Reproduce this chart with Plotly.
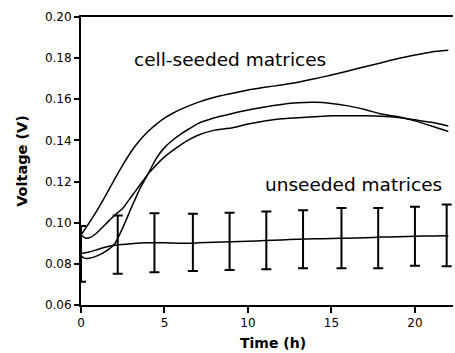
import plotly.graph_objects as go

# Cell-seeded matrix 1 (top curve)
t_a = [0, 0.5, 1, 1.5, 2, 2.5, 3, 3.5, 4, 4.5, 5, 5.5, 6, 7, 8, 9, 10, 11, 12, 13, 14, 15, 16, 17, 18, 19, 20, 21, 22]
v_a = [0.094, 0.1, 0.1065, 0.1135, 0.121, 0.128, 0.1345, 0.1398, 0.1442, 0.1478, 0.1508, 0.1532, 0.1552, 0.1585, 0.161, 0.1628, 0.1645, 0.1658, 0.167, 0.1683, 0.170, 0.1718, 0.1738, 0.1758, 0.1778, 0.1798, 0.1815, 0.183, 0.1838]

# Cell-seeded matrix 2 (starts lowest, peaks mid-way)
t_b = [0, 0.2, 0.5, 1, 1.5, 2, 2.5, 3, 3.5, 4, 4.5, 5, 5.5, 6, 6.5, 7, 8, 9, 10, 11, 12, 13, 14, 15, 16, 17, 18, 19, 20, 21, 22]
v_b = [0.0838, 0.0828, 0.0827, 0.084, 0.0862, 0.0895, 0.0975, 0.107, 0.116, 0.1235, 0.1312, 0.1365, 0.1402, 0.1432, 0.1458, 0.1482, 0.151, 0.153, 0.1548, 0.1563, 0.1575, 0.1583, 0.1585, 0.158, 0.1568, 0.155, 0.1528, 0.1515, 0.1495, 0.147, 0.1443]

# Cell-seeded matrix 3 (starts with a dip, flattest plateau)
t_c = [0, 0.3, 0.6, 1, 1.5, 2, 2.5, 3, 3.5, 4, 4.5, 5, 5.5, 6, 6.5, 7, 8, 9, 10, 11, 12, 13, 14, 15, 16, 17, 18, 19, 20, 21, 22]
v_c = [0.094, 0.0925, 0.093, 0.0955, 0.0995, 0.1035, 0.107, 0.1125, 0.118, 0.1235, 0.128, 0.132, 0.1352, 0.138, 0.1405, 0.1425, 0.145, 0.146, 0.148, 0.1495, 0.1505, 0.151, 0.1515, 0.152, 0.152, 0.152, 0.1518, 0.1512, 0.150, 0.1488, 0.147]

# Unseeded matrices (mean)
t_u = [0, 0.5, 1, 1.5, 2, 3, 4, 5, 6, 7, 8, 9, 10, 11, 12, 13, 14, 15, 16, 17, 18, 19, 20, 21, 22]
v_u = [0.085, 0.0858, 0.087, 0.0882, 0.089, 0.0898, 0.0902, 0.0902, 0.090, 0.0902, 0.0905, 0.0908, 0.091, 0.0913, 0.0916, 0.092, 0.0922, 0.0923, 0.0925, 0.0927, 0.093, 0.0932, 0.0934, 0.0936, 0.0937]

# Unseeded error bars
err_t = [0, 2.2, 4.4, 6.7, 8.9, 11.1, 13.3, 15.6, 17.8, 20.0, 21.9]
err_mean = [0.0849, 0.0893, 0.0903, 0.0905, 0.0910, 0.0914, 0.0920, 0.0925, 0.0925, 0.0934, 0.0938]
err_upper = [0.0984, 0.1035, 0.1046, 0.1044, 0.1049, 0.1054, 0.1061, 0.1071, 0.1071, 0.1077, 0.1088]
err_lower = [0.0713, 0.0752, 0.0759, 0.0765, 0.0770, 0.0774, 0.0779, 0.0779, 0.0779, 0.0791, 0.0788]

x_ticks = [0, 5, 10, 15, 20]
y_ticks = [0.06, 0.08, 0.10, 0.12, 0.14, 0.16, 0.18, 0.20]

FONT = "DejaVu Sans"

fig = go.Figure()
for tx, vy in [(t_a, v_a), (t_b, v_b), (t_c, v_c), (t_u, v_u)]:
    fig.add_trace(go.Scatter(x=tx, y=vy, mode="lines",
                             line=dict(color="black", width=1.5, shape="spline", smoothing=0.6),
                             showlegend=False, hoverinfo="skip"))

fig.add_trace(go.Scatter(
    x=err_t, y=err_mean, mode="markers",
    marker=dict(size=2, color="black", opacity=0),
    error_y=dict(type="data", symmetric=False,
                 array=[u - m for u, m in zip(err_upper, err_mean)],
                 arrayminus=[m - l for m, l in zip(err_mean, err_lower)],
                 color="black", thickness=2, width=5),
    cliponaxis=False, showlegend=False, hoverinfo="skip"))

fig.update_layout(
    width=455, height=353,
    margin=dict(l=81, r=2, t=17, b=48),
    paper_bgcolor="white", plot_bgcolor="white",
    font=dict(family=FONT, color="black", size=12),
    showlegend=False,
    xaxis=dict(range=[0, 22.28], tickvals=x_ticks, ticktext=[str(v) for v in x_ticks],
               showgrid=False, zeroline=False, showline=True, linecolor="black", linewidth=2,
               mirror=True, ticks="outside", ticklen=6, tickwidth=2, tickcolor="black",
               tickfont=dict(family=FONT, size=12), automargin=False),
    yaxis=dict(range=[0.06, 0.20], tickvals=y_ticks, ticktext=["%.2f" % v for v in y_ticks],
               showgrid=False, zeroline=False, showline=True, linecolor="black", linewidth=2,
               ticks="outside", ticklen=5, tickwidth=2, tickcolor="black",
               tickfont=dict(family=FONT, size=12), automargin=False),
    annotations=[
        dict(text="cell-seeded matrices", x=3.05, y=0.1792, xref="x", yref="y",
             xanchor="left", yanchor="middle", showarrow=False,
             font=dict(family=FONT, size=18.5, color="black")),
        dict(text="unseeded matrices", x=10.93, y=0.1184, xref="x", yref="y",
             xanchor="left", yanchor="middle", showarrow=False,
             font=dict(family=FONT, size=18.5, color="black")),
        dict(text="<b>Time (h)</b>", x=0.516, y=-0.131, xref="paper", yref="paper",
             xanchor="center", yanchor="middle", showarrow=False,
             font=dict(family=FONT, size=14, color="black")),
        dict(text="<b>Voltage (V)</b>", x=-0.159, y=0.50, xref="paper", yref="paper",
             xanchor="center", yanchor="middle", textangle=-90, showarrow=False,
             font=dict(family=FONT, size=14.5, color="black")),
    ],
)

fig.write_html("out.html", config={"displayModeBar": False},
               post_script="document.body.style.margin='0';document.body.style.padding='0';")
